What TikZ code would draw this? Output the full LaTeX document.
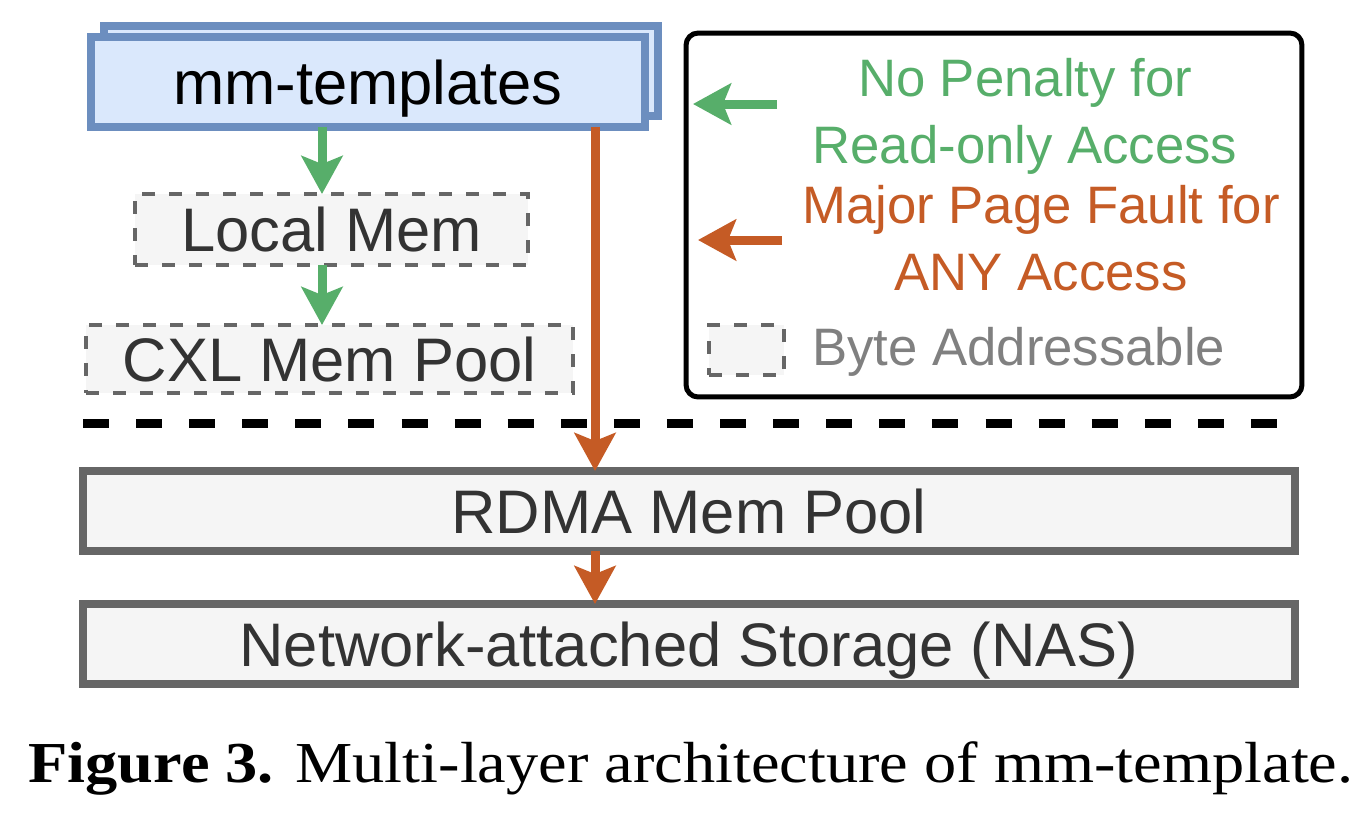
\documentclass[tikz,border=0pt]{standalone}
\usepackage{fontspec}
\setmainfont{Liberation Sans}
\newfontfamily\capfont[FakeStretch=1.11]{Liberation Serif}
\usetikzlibrary{arrows.meta,positioning}
\definecolor{tplfill}{HTML}{DAE8FC}
\definecolor{tpldraw}{HTML}{6C8EBF}
\definecolor{memfill}{HTML}{F5F5F5}
\definecolor{memdraw}{HTML}{666666}
\definecolor{memtext}{HTML}{333333}
\definecolor{readgreen}{HTML}{57AE6A}
\definecolor{faultorange}{HTML}{C55B25}
\definecolor{keygray}{HTML}{808080}
\tikzset{
  bigtext/.style={font=\fontsize{35}{42}\selectfont, text height=25.2pt, text depth=0pt},
  keytext/.style={font=\fontsize{30}{38}\selectfont},
  tplbox/.style={draw=tpldraw, fill=tplfill, line width=0.16cm, minimum width=11.08cm, minimum height=1.8cm, inner sep=0pt, outer sep=0pt},
  membox/.style={draw=memdraw, fill=memfill, text=memtext, line width=0.07cm, dash pattern=on 0.26cm off 0.28cm, inner sep=0pt, outer sep=0pt},
  layerbox/.style={draw=memdraw, fill=memfill, text=memtext, line width=0.16cm, minimum width=24.24cm, minimum height=1.6cm, inner sep=0pt, outer sep=0pt, bigtext},
  readarrow/.style={draw=readgreen, fill=readgreen, line width=0.18cm, -{Stealth[length=0.76cm,width=0.82cm,inset=0.16cm]}},
  faultarrow/.style={draw=faultorange, fill=faultorange, line width=0.18cm, -{Stealth[length=0.76cm,width=0.82cm,inset=0.16cm]}}
}
\begin{document}
\begin{tikzpicture}[x=0.02cm, y=-0.02cm]
  \useasboundingbox (0,0) rectangle (1372,812);
  \node[tplbox] (tplback) at (381,71) {};
  \node[tplbox, bigtext, text=black] (tpl) at (368,82) {mm-templates};
  \node[membox, bigtext, minimum width=7.86cm, minimum height=1.42cm] (local) at (331.5,229.5) {Local Mem};
  \node[membox, bigtext, minimum width=9.74cm, minimum height=1.36cm] (cxl) at (329.5,359) {CXL Mem Pool};
  \node[layerbox] (rdma) at (689,511) {RDMA Mem Pool};
  \node[layerbox] (nas) at (689,644) {Network-attached Storage (NAS)};
  \draw[line width=0.18cm, dash pattern=on 0.52cm off 0.542cm] (83,423) -- (1277,423);
  \coordinate (gx) at (322,0);
  \coordinate (ox) at (595,0);
  \draw[readarrow] (tpl.south -| gx) -- (local.north -| gx);
  \draw[readarrow] (local.south -| gx) -- (cxl.north -| gx);
  \draw[faultarrow] (tpl.south -| ox) -- (rdma.north -| ox);
  \draw[faultarrow] (rdma.south -| ox) -- (nas.north -| ox);
  \node[draw=black, line width=0.1cm, rounded corners=0.24cm, minimum width=12.32cm, minimum height=7.28cm, inner sep=0pt] (legend) at (994,215) {};
  \coordinate (readtail) at (777,104);
  \coordinate (readtip) at (693,104);
  \coordinate (faulttail) at (782,240);
  \coordinate (faulttip) at (698,240);
  \draw[readarrow] (readtail) -- (readtip);
  \draw[faultarrow] (faulttail) -- (faulttip);
  \node[keytext, text=readgreen, align=center] (readkey) at (1025,116) {No Penalty for\\Read-only Access};
  \node[keytext, text=faultorange, align=center] (faultkey) at (1041,238) {Major Page Fault for\\ANY Access};
  \node[membox, minimum width=1.5cm, minimum height=1cm] (bytebox) at (746.5,350) {};
  \node[keytext, text=keygray, anchor=base west] (bytekey) at (806,365) {Byte Addressable};
  \node[font={\capfont\fontsize{33}{40}\selectfont}, anchor=base] (caption) at (691,782) {\textbf{Figure 3.} Multi-layer architecture of mm-template.};
\end{tikzpicture}
\end{document}
